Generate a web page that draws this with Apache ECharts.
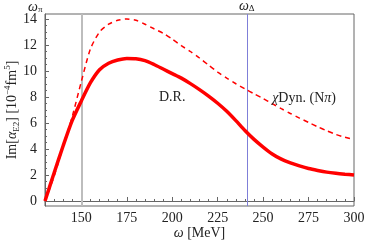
<!DOCTYPE html>
<html><head><meta charset="utf-8">
<script src="https://cdn.jsdelivr.net/npm/echarts@6/dist/echarts.min.js"></script>
<style>html,body{margin:0;padding:0;background:#fff}#c{width:366px;height:241px}</style>
</head><body><div id="c"></div>
<script>
const omega = [130,135,140,145,150,155,160,165,170,175,180,185,190,195,200,205,210,215,220,225,230,235,240,245,250,255,260,265,270,275,280,285,290,295,300];
const dispersion = [0,2.15,4.25,6.2,7.7,9.1,10.1,10.6,10.85,10.97,10.95,10.8,10.5,10.15,9.8,9.45,9.03,8.57,8.07,7.52,6.9,6.18,5.42,4.74,4.15,3.62,3.22,2.93,2.7,2.5,2.35,2.22,2.13,2.06,2.0];
const chiralDyn = [0,1.9,4.2,6.5,9.2,11.7,13.0,13.6,13.9,14.0,13.9,13.6,13.25,12.9,12.45,11.95,11.5,11.0,10.45,9.92,9.45,9.02,8.62,8.25,7.88,7.49,7.1,6.73,6.38,6.04,5.71,5.4,5.12,4.9,4.74];
const xTicks = [150,175,200,225,250,275,300];
const yTicks = [0,2,4,6,8,10,12,14];
const omegaPi = 150, omegaDelta = 241;

const serif = 'Liberation Serif';
const txt = '#222';
const frame = '#666';
const xMinor = []; for (let v = 130; v <= 300; v += 5) if (xTicks.indexOf(v) < 0) xMinor.push(v);
const yMinor = []; for (let v = 0; v <= 14; v += 0.5) if (yTicks.indexOf(v) < 0) yMinor.push(v);

const chart = echarts.init(document.getElementById('c'), null, {renderer:'canvas'});
const d1 = omega.map((x,i)=>[x, dispersion[i]]);
const d2 = omega.map((x,i)=>[x, chiralDyn[i]]);
chart.setOption({
  animation:false,
  grid:{left:45, right:12, top:14, bottom:35, show:true, borderColor:frame, borderWidth:1, outerBoundsMode:'none', containLabel:false},
  xAxis:[{
    type:'value', min:130, max:300, position:'bottom',
    axisLine:{show:true, lineStyle:{color:frame}},
    axisTick:{show:true, inside:true, length:4, customValues:xTicks, lineStyle:{color:frame}},
    axisLabel:{customValues:xTicks, fontFamily:serif, fontSize:14, color:txt, margin:5},
    splitLine:{show:false},
    name:'{i|ω} [MeV]', nameLocation:'middle', nameGap:20, nameMoveOverlap:false,
    nameTextStyle:{fontFamily:serif, fontSize:14, color:txt, rich:{i:{fontFamily:serif, fontStyle:'italic', fontSize:14, color:txt}}}
  },{
    type:'value', min:130, max:300, position:'bottom', offset:0,
    axisLine:{show:false}, axisLabel:{show:false}, splitLine:{show:false},
    axisTick:{show:true, inside:true, length:2, customValues:xMinor, lineStyle:{color:frame}}
  }],
  yAxis:[{
    type:'value', min:-0.385, max:14.385, position:'left',
    axisLine:{show:true, lineStyle:{color:frame}},
    axisTick:{show:true, inside:true, length:4, customValues:yTicks, lineStyle:{color:frame}},
    axisLabel:{customValues:yTicks, fontFamily:serif, fontSize:14, color:txt, margin:8},
    splitLine:{show:false},
    name:'{n|Im[}{i|α}{s|E2}{n|] [10}{p|−4}{n|fm}{p|5}{n|]}', nameLocation:'middle', nameGap:24, nameRotate:90, nameMoveOverlap:false,
    nameTextStyle:{fontFamily:serif, fontSize:14, color:txt, rich:{
      n:{fontFamily:serif, fontSize:14, color:txt, lineHeight:18},
      i:{fontFamily:serif, fontStyle:'italic', fontSize:14, color:txt, lineHeight:18},
      s:{fontFamily:serif, fontSize:9, color:txt, verticalAlign:'bottom', lineHeight:18},
      p:{fontFamily:serif, fontSize:9, color:txt, verticalAlign:'top', lineHeight:18}
    }}
  },{
    type:'value', min:-0.385, max:14.385, position:'left', offset:0,
    axisLine:{show:false}, axisLabel:{show:false}, splitLine:{show:false},
    axisTick:{show:true, inside:true, length:2, customValues:yMinor, lineStyle:{color:frame}}
  }],
  series:[
    {type:'line', data:d1, symbol:'none', smooth:0.25, z:5,
     lineStyle:{color:'#ff0000', width:3.5},
     markLine:{symbol:'none', silent:true, animation:false, z:1,
       lineStyle:{color:'#bdbdbd', width:2, type:'solid'}, label:{show:false},
       data:[{xAxis:omegaPi}]},
     markPoint:{symbol:'circle', symbolSize:0, silent:true,
       data:[{coord:[200,8.0], label:{show:true, position:'inside', formatter:'D.R.', fontFamily:serif, fontSize:14, color:txt}}]}
    },
    {type:'line', data:d2, symbol:'none', smooth:0.25, z:4,
     lineStyle:{color:'#ff0000', width:1.5, type:[5,4]},
     markLine:{symbol:'none', silent:true, animation:false, z:1,
       lineStyle:{color:'#7f7fd8', width:1, type:'solid'},
       label:{show:true, position:'end', distance:1, formatter:'{i|ω}{s|Δ}',
         rich:{i:{fontFamily:serif, fontStyle:'italic', fontSize:14, color:txt}, s:{fontFamily:serif, fontSize:9, color:txt, verticalAlign:'bottom', lineHeight:14}}},
       data:[{xAxis:omegaDelta}]},
     markPoint:{symbol:'circle', symbolSize:0, silent:true,
       data:[{coord:[255,7.88], label:{show:true, position:'right', distance:0, formatter:'{i|χ}Dyn. (N{i|π})', fontFamily:serif, fontSize:14, color:txt,
         rich:{i:{fontFamily:serif, fontStyle:'italic', fontSize:14, color:txt}}}}]}
    }
  ],
  graphic:[{type:'text', left:28, top:0, style:{text:'{i|ω}{s|π}', rich:{i:{font:'italic 14px "Liberation Serif"', fill:txt}, s:{font:'9px "Liberation Serif"', fill:txt, verticalAlign:'bottom', lineHeight:14}}}}]
});
</script></body></html>
